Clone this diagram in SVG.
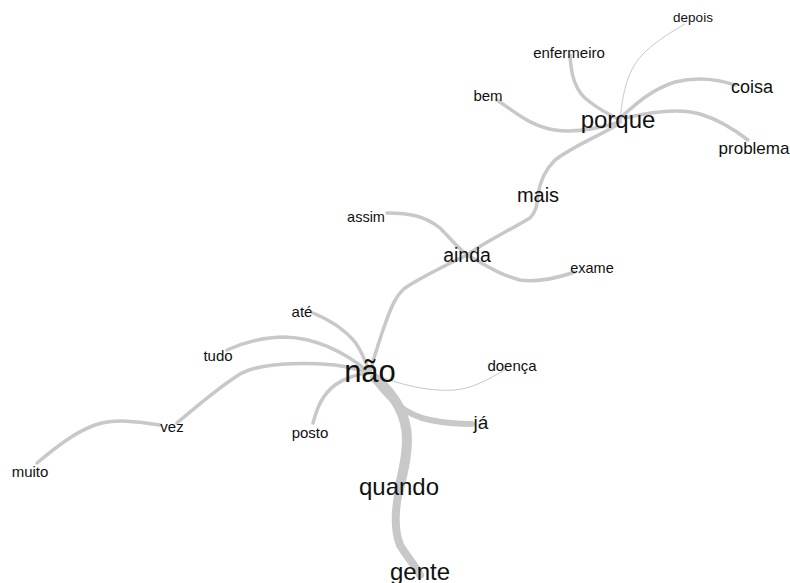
<svg xmlns="http://www.w3.org/2000/svg" width="790" height="583" viewBox="0 0 790 583">
<style>
.e{fill:none;stroke:#c8c8c8;stroke-linecap:round;stroke-width:3.5}
.thin{stroke-width:1}
text{font-family:"Liberation Sans",Arial,sans-serif;fill:#111;text-anchor:middle}
</style>
<rect width="790" height="583" fill="#fff"/>
<g id="edges">
<path class="e thin" d="M620,120 C623,90 628,68 645,52 C660,38 675,30 685,24"/>
<path class="e" d="M570,55 C571,75 575,92 590,102 C600,110 610,115 620,120"/>
<path class="e" d="M497,100 C515,112 530,126 555,130 C575,133 600,128 620,122"/>
<path class="e" d="M620,118 C635,105 650,90 675,82 C700,76 720,80 735,85"/>
<path class="e" d="M625,118 C650,112 680,108 700,114 C720,120 735,130 748,140"/>
<path class="e" d="M617,125 C595,138 575,145 555,160 C545,170 540,180 538,195"/>
<path class="e" d="M538,195 C537,205 536,212 530,218 C510,230 485,242 467,255"/>
<path class="e" d="M387,213 C410,213 425,216 440,228 C450,238 458,248 467,255"/>
<path class="e" d="M467,255 C485,265 500,275 520,280 C540,283 560,277 575,272"/>
<path class="e" d="M467,255 C440,268 420,278 405,288 C395,296 390,310 383,330 C378,345 373,360 370,373"/>
<path class="e" d="M313,313 C330,320 345,330 355,342 C362,352 366,362 370,373"/>
<path class="e" d="M227,350 C245,342 265,337 285,337 C315,338 345,352 370,373"/>
<path class="e" d="M177,423 C195,408 215,390 240,374 C260,363 300,362 335,365 C350,367 360,370 370,373"/>
<path class="e" d="M37,463 C55,448 75,432 95,425 C115,418 140,422 160,425"/>
<path class="e" d="M313,423 C317,408 322,395 335,385 C345,378 358,374 370,373"/>
<path class="e thin" d="M370,373 C400,385 430,392 455,390 C475,388 490,378 505,370"/>
<path class="e" style="stroke-width:6" d="M375,380 C390,400 405,415 430,420 C445,423 460,424 472,424"/>
<path class="e" style="stroke-width:10" d="M375,378 C395,395 407,415 407,440 C407,460 402,475 399,490"/>
<path class="e" style="stroke-width:8" d="M399,490 C395,510 394,530 400,545 C407,557 415,565 420,575"/>
</g>
<g id="n-depois"><text x="693" y="22" font-size="13.5">depois</text></g>
<g id="n-enfermeiro"><text x="569" y="58" font-size="15">enfermeiro</text></g>
<g id="n-bem"><text x="488" y="101" font-size="15">bem</text></g>
<g id="n-porque"><text x="618" y="128" font-size="24">porque</text></g>
<g id="n-coisa"><text x="752" y="93" font-size="18">coisa</text></g>
<g id="n-problema"><text x="754" y="154" font-size="17">problema</text></g>
<g id="n-mais"><text x="538" y="202" font-size="20">mais</text></g>
<g id="n-assim"><text x="366" y="222" font-size="14.5">assim</text></g>
<g id="n-ainda"><text x="467" y="262" font-size="19.5">ainda</text></g>
<g id="n-exame"><text x="592" y="273" font-size="14.5">exame</text></g>
<g id="n-ate"><text x="302" y="317" font-size="15">até</text></g>
<g id="n-tudo"><text x="218" y="361" font-size="15">tudo</text></g>
<g id="n-nao"><text x="370" y="382" font-size="31">não</text></g>
<g id="n-doenca"><text x="512" y="371" font-size="15">doença</text></g>
<g id="n-vez"><text x="172" y="432" font-size="15">vez</text></g>
<g id="n-posto"><text x="310" y="438" font-size="15">posto</text></g>
<g id="n-ja"><text x="481" y="429" font-size="19">já</text></g>
<g id="n-muito"><text x="30" y="477" font-size="15">muito</text></g>
<g id="n-quando"><text x="399" y="495" font-size="24">quando</text></g>
<g id="n-gente"><text x="420" y="580" font-size="24">gente</text></g>
</svg>
